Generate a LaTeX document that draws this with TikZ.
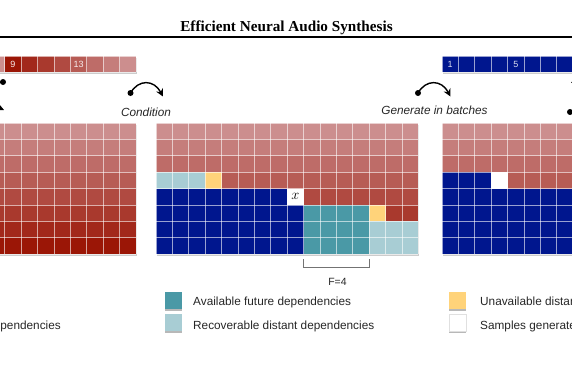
\documentclass[tikz,border=0pt]{standalone}
\usepackage{fontspec}
\setmainfont{Liberation Serif}
\setsansfont{Liberation Sans}
\usetikzlibrary{arrows.meta,shadows}

\definecolor{redlight}{RGB}{204,142,142}
\definecolor{reddark}{RGB}{155,22,6}
\definecolor{sampleblue}{RGB}{0,22,142}
\definecolor{futureteal}{RGB}{74,153,166}
\definecolor{distantteal}{RGB}{168,205,212}
\definecolor{missingyellow}{RGB}{255,211,122}

\newcommand{\cellw}{16.4}
% block of cells: column, row, width, height (in cells), colour
\newcommand{\blockfill}[5]{\fill[#5] (#1*\cellw,#2*\cellw) rectangle ++(#3*\cellw,#4*\cellw);}
% eight rows, light on top, dark at the bottom
\newcommand{\redrows}[1]{\foreach \r in {0,...,7}{\pgfmathtruncatemacro\pct{\r*100/7}\fill[reddark!\pct!redlight] (0,\r*\cellw) rectangle ++(#1*\cellw,\cellw);}}
% white lines between the cells
\newcommand{\gridlines}[2]{\foreach \i in {0,...,#1}{\draw[gridline] (\i*\cellw,0) -- ++(0,#2*\cellw);}\foreach \j in {0,...,#2}{\draw[gridline] (0,\j*\cellw) -- ++(#1*\cellw,0);}}

\begin{document}
\begin{tikzpicture}[x=1pt, y=-1pt,
    gridline/.style={draw=white, draw opacity=0.6, line width=0.8pt},
    gridshadow/.style={fill=black!20},
    stripnum/.style={text=white!85!redlight, font=\sffamily\fontsize{9}{10}\selectfont, inner sep=0pt},
    caption/.style={text=black!85, font=\sffamily\itshape\fontsize{11.8}{14}\selectfont, inner sep=0pt, anchor=base},
    legendtext/.style={text=black!85, font=\sffamily\fontsize{11.8}{14}\selectfont, inner sep=0pt, anchor=base west},
    legendbox/.style={minimum size=17pt, inner sep=0pt, drop shadow={shadow xshift=0.4pt, shadow yshift=-1.6pt, fill=black!28, opacity=1}},
    curvearrow/.style={line width=1.4pt, -{Stealth[length=7.5pt,width=7.5pt]}},
    dot/.style={circle, fill=black, inner sep=0pt, minimum size=6pt},
]
\clip (0,0) rectangle (572,364);

% header
\node[anchor=base, font=\bfseries\fontsize{15.2}{18}\selectfont] (title) at (286.5,31.5) {Efficient Neural Audio Synthesis};
\coordinate (ruleleft) at (0,37);
\coordinate (ruleright) at (572,37);
\draw[line width=1.5pt] (ruleleft) -- (ruleright);

% left sequence and tensor
\begin{scope}[shift={(-126.4,56)}]
    \fill[gridshadow] (0.5,1.5) rectangle ++(16*\cellw,\cellw);
    \foreach \n in {0,...,15}{
        \pgfmathtruncatemacro\pct{(7-mod(\n,8))*100/7}
        \fill[reddark!\pct!redlight] (\n*\cellw,0) rectangle ++(\cellw,\cellw);
    }
    \gridlines{16}{1}
    \node[stripnum] (seqnine) at (8.5*\cellw,0.5*\cellw) {9};
    \node[stripnum] (seqthirteen) at (12.5*\cellw,0.5*\cellw) {13};
\end{scope}
\begin{scope}[shift={(-126.4,123)}]
    \fill[gridshadow] (0.5,1.5) rectangle ++(16*\cellw,8*\cellw);
    \redrows{16}
    \gridlines{16}{8}
\end{scope}

% middle tensor, one step of conditioning
\begin{scope}[shift={(156,123)}]
    \fill[gridshadow] (0.5,1.5) rectangle ++(16*\cellw,8*\cellw);
    \redrows{16}
    \blockfill{0}{3}{3}{1}{distantteal}
    \blockfill{3}{3}{1}{1}{missingyellow}
    \blockfill{0}{4}{8}{1}{sampleblue}
    \blockfill{8}{4}{1}{1}{white}
    \blockfill{0}{5}{9}{3}{sampleblue}
    \blockfill{9}{5}{4}{3}{futureteal}
    \blockfill{13}{5}{1}{1}{missingyellow}
    \blockfill{13}{6}{3}{2}{distantteal}
    \gridlines{16}{8}
    \node[inner sep=0pt, font=\fontsize{15}{15}\selectfont] (current) at (8.5*\cellw,4.45*\cellw) {$x$};
    \coordinate (fleft) at (9*\cellw,8*\cellw+5);
    \coordinate (fright) at (13*\cellw,8*\cellw+5);
\end{scope}
\draw[black!55, line width=0.9pt] (fleft) -- ++(0,8) -| (fright);
\node[text=black!85, font=\sffamily\fontsize{10.5}{12}\selectfont, inner sep=0pt, anchor=base] (flabel) at (337.5,285) {F=4};

% right tensor and sequence
\begin{scope}[shift={(442,123)}]
    \fill[gridshadow] (0.5,1.5) rectangle ++(9*\cellw,8*\cellw);
    \redrows{9}
    \blockfill{0}{3}{3}{1}{sampleblue}
    \blockfill{3}{3}{1}{1}{white}
    \blockfill{0}{4}{9}{4}{sampleblue}
    \gridlines{9}{8}
\end{scope}
\begin{scope}[shift={(442,56)}]
    \fill[gridshadow] (0.5,1.5) rectangle ++(9*\cellw,\cellw);
    \blockfill{0}{0}{9}{1}{sampleblue}
    \gridlines{9}{1}
    \node[stripnum, text=white!85!sampleblue] (seqone) at (0.5*\cellw,0.5*\cellw) {1};
    \node[stripnum, text=white!85!sampleblue] (seqfive) at (4.5*\cellw,0.5*\cellw) {5};
\end{scope}

% curved arrows
\node[dot] (condfrom) at (130.5,93) {};
\coordinate (condto) at (163,96.5);
\draw[curvearrow] (condfrom.center) .. controls +(8,-14) and +(-9,-17) .. (condto);
\node[caption] (condlabel) at (146,116) {Condition};

\node[dot] (genfrom) at (418,93) {};
\coordinate (gento) at (450.5,96.5);
\draw[curvearrow] (genfrom.center) .. controls +(8,-14) and +(-9,-17) .. (gento);
\node[caption] (genlabel) at (434.5,114.5) {Generate in batches};

\node[dot] (reshapefrom) at (3,82) {};
\coordinate (reshapeto) at (4,110);
\draw[curvearrow] (reshapefrom.center) .. controls +(-20,2) and +(-16,-7) .. (reshapeto);

\node[dot] (flattenfrom) at (570,112) {};
\coordinate (flattento) at (571,83);
\draw[curvearrow] (flattenfrom.center) .. controls +(22,0) and +(16,-9) .. (flattento);

% legend
\node[legendtext, anchor=base east] (pastkey) at (61,329) {dependencies};
\node[legendbox, fill=futureteal] (futurebox) at (173.5,300.5) {};
\node[legendtext] (futurekey) at (193,305) {Available future dependencies};
\node[legendbox, fill=distantteal] (distantbox) at (173.5,322.5) {};
\node[legendtext] (distantkey) at (193,329) {Recoverable distant dependencies};
\node[legendbox, fill=missingyellow] (missingbox) at (457.5,300.5) {};
\node[legendtext] (missingkey) at (480,305) {Unavailable distant dependencies};
\node[legendbox, fill=white, draw=black!12, line width=0.6pt] (samplebox) at (457.5,322.5) {};
\node[legendtext] (samplekey) at (480,329) {Samples generated};
\end{tikzpicture}
\end{document}
